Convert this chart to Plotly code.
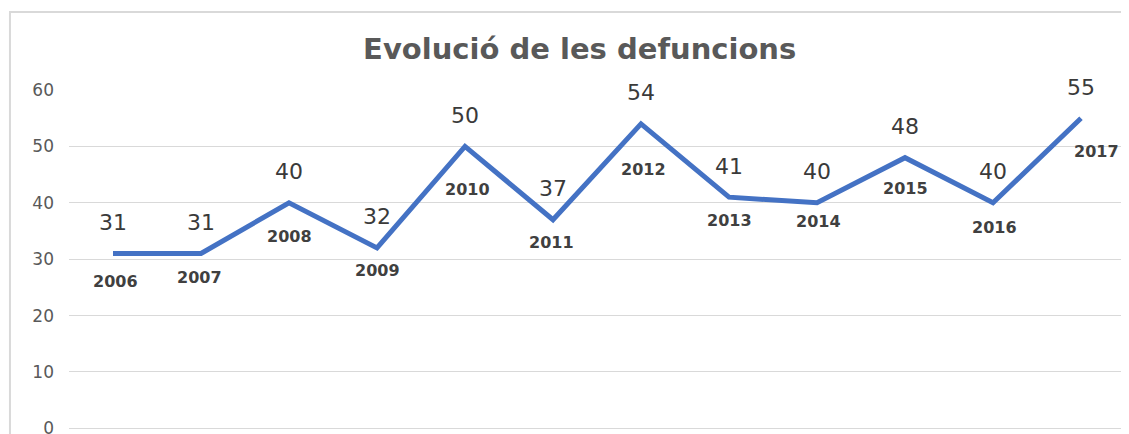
import plotly.graph_objects as go

years = ["2006", "2007", "2008", "2009", "2010", "2011", "2012", "2013", "2014", "2015", "2016", "2017"]
deaths = [31, 31, 40, 32, 50, 37, 54, 41, 40, 48, 40, 55]
y_ticks = [0, 10, 20, 30, 40, 50, 60]

# label placement styles (pixel offsets of the year labels relative to each point)
year_dy = [-28, -24, -34, -23, -43, -23, -46, -23, -19, -31, -25, -33]
year_dx = [2, -2, 0, 0, 2, -2, 2, 0, 1, 0, 1, 15]

fig = go.Figure()
fig.add_trace(go.Scatter(
    x=years, y=deaths, mode="lines",
    line=dict(color="#4472C4", width=5),
    hoverinfo="skip", showlegend=False,
))

for i, (yr, v) in enumerate(zip(years, deaths)):
    fig.add_annotation(x=i, y=v, text=str(v), showarrow=False, yshift=31,
                       font=dict(family="DejaVu Sans", size=22, color="#3A3A3A"))
    fig.add_annotation(x=i, y=v, text="<b>%s</b>" % yr, showarrow=False,
                       yshift=year_dy[i], xshift=year_dx[i],
                       font=dict(family="DejaVu Sans", size=16, color="#404040"))

fig.add_shape(type="rect", xref="paper", yref="paper",
              x0=-0.0559, x1=1.1, y0=-0.2, y1=1.2267,
              line=dict(color="#D9D9D9", width=2), layer="below")

fig.update_layout(
    width=1121, height=426,
    margin=dict(l=61, r=4, t=82, b=0, autoexpand=False),
    paper_bgcolor="white", plot_bgcolor="white",
    title=dict(text="<b>Evolució de les defuncions</b>", x=0.51, xanchor="center",
               y=0.905, yanchor="middle",
               font=dict(family="DejaVu Sans", size=29, color="#595959")),
    xaxis=dict(type="category", range=[-0.5, 11.5], showticklabels=False,
               showgrid=False, zeroline=False, showline=False, fixedrange=True,
               automargin=False),
    yaxis=dict(range=[-1, 60], tickvals=y_ticks, showgrid=True, gridcolor="#D9D9D9",
               gridwidth=1, zeroline=False, showline=False, ticks="",
               tickfont=dict(family="DejaVu Sans", size=17, color="#595959"),
               ticklabelstandoff=14, ticklabeloverflow="allow", automargin=False),
)

fig.write_html("out.html")
